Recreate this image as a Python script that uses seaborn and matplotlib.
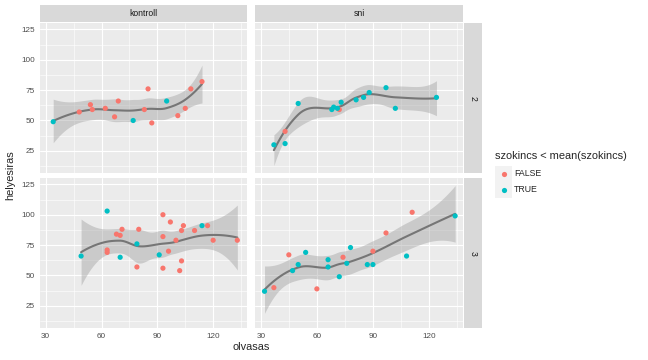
import numpy as np
import pandas as pd
import matplotlib
matplotlib.use("Agg")
import matplotlib.pyplot as plt
import seaborn as sns

sns.set_style("white")
plt.rcParams['font.family'] = ['Liberation Sans', 'DejaVu Sans']

# panel data: olvasas, helyesiras, szokincs < mean(szokincs)
k2_olvasas = [34, 48, 54, 55, 62, 67, 69, 77, 83, 85, 87, 95, 101, 105, 108, 114]
k2_helyesiras = [49, 57, 63, 59, 60, 53, 66, 50, 59, 76, 48, 66, 54, 60, 76, 82]
k2_alacsony = [1, 0, 0, 0, 0, 0, 0, 1, 0, 0, 0, 1, 0, 0, 0, 0]

s2_olvasas = [37, 43, 43, 50, 68, 69, 72, 71, 73, 81, 85, 88, 97, 102, 124]
s2_helyesiras = [30, 31, 41, 64, 59, 61, 59, 60, 65, 67, 69, 73, 77, 60, 69]
s2_alacsony = [1, 1, 0, 1, 1, 1, 0, 1, 1, 1, 1, 1, 1, 1, 1]

k3_olvasas = [49, 63, 63, 63, 68, 70, 70, 71, 79, 79, 80, 91, 93, 93, 93, 96, 97,
              100, 102, 103, 103, 104, 110, 114, 117, 120, 133]
k3_helyesiras = [66, 103, 71, 69, 84, 83, 65, 88, 76, 57, 88, 67, 100, 82, 56, 70, 94,
                 79, 54, 62, 87, 91, 87, 91, 91, 79, 79]
k3_alacsony = [1, 1, 0, 0, 0, 0, 1, 0, 1, 0, 0, 1, 0, 0, 0, 0, 0,
               0, 0, 0, 0, 0, 0, 1, 0, 0, 0]

s3_olvasas = [32, 37, 45, 47, 50, 54, 60, 66, 66, 72, 74, 76, 78, 87, 90, 90, 97, 108, 111, 134]
s3_helyesiras = [37, 40, 67, 54, 59, 69, 39, 63, 57, 49, 65, 60, 73, 59, 59, 70, 85, 66, 102, 99]
s3_alacsony = [1, 0, 0, 1, 1, 1, 0, 1, 1, 1, 0, 1, 1, 1, 1, 0, 0, 1, 0, 1]

panelek = {
    ("kontroll", "2"): (k2_olvasas, k2_helyesiras, k2_alacsony),
    ("sni", "2"): (s2_olvasas, s2_helyesiras, s2_alacsony),
    ("kontroll", "3"): (k3_olvasas, k3_helyesiras, k3_alacsony),
    ("sni", "3"): (s3_olvasas, s3_helyesiras, s3_alacsony),
}
szinek = {"FALSE": "#F8766D", "TRUE": "#00BFC4"}


def loess_fit(x, y, xs, span=0.75, cell=0.2):
    # loess (degree 2, tricube) with kd-tree vertices + cubic Hermite interpolation, as R does
    x = np.asarray(x, float)
    y = np.asarray(y, float)
    n = len(x)
    q = int(np.floor(n * span))
    fc = int(np.floor(n * span * cell))

    def local(x0):
        d = np.abs(x - x0)
        h = np.sort(d)[q - 1]
        w = np.clip(1 - (d / h) ** 3, 0, None) ** 3
        X = np.column_stack([np.ones(n), x - x0, (x - x0) ** 2])
        XtW = X.T * w
        B = np.linalg.solve(XtW @ X, XtW)
        return B[0], B[1]

    srt = np.sort(x)
    mu = 0.005 * max(srt[-1] - srt[0], 1e-10)
    verts = {srt[0] - mu, srt[-1] + mu}

    def split(l, u, a, b):
        if u - l + 1 <= fc:
            return
        m = (l + u) // 2
        xi = srt[m - 1]
        if xi == a or xi == b:
            return
        verts.add(xi)
        split(l, m, a, xi)
        split(m + 1, u, xi, b)

    split(1, n, srt[0] - mu, srt[-1] + mu)
    vv = np.array(sorted(verts))
    vals = [local(v) for v in vv]

    def rows(pts):
        out = []
        for t in pts:
            i = min(max(np.searchsorted(vv, t) - 1, 0), len(vv) - 2)
            h = vv[i + 1] - vv[i]
            s = (t - vv[i]) / h
            h00 = 2 * s ** 3 - 3 * s ** 2 + 1
            h10 = s ** 3 - 2 * s ** 2 + s
            h01 = -2 * s ** 3 + 3 * s ** 2
            h11 = s ** 3 - s ** 2
            out.append(h00 * vals[i][0] + h10 * h * vals[i][1]
                       + h01 * vals[i + 1][0] + h11 * h * vals[i + 1][1])
        return np.array(out)

    L = rows(x)
    IL = np.eye(n) - L
    M = IL.T @ IL
    d1 = np.trace(M)
    d2 = np.trace(M @ M)
    s = np.sqrt(np.sum((IL @ y) ** 2) / d1)
    df = d1 ** 2 / d2
    z = 1.959964
    t = z + (z ** 3 + z) / (4 * df) + (5 * z ** 5 + 16 * z ** 3 + 3 * z) / (96 * df ** 2)
    Ls = rows(xs)
    fit = Ls @ y
    se = s * np.sqrt(np.sum(Ls ** 2, axis=1))
    return fit, fit - t * se, fit + t * se


W, H = 648, 360
fig = plt.figure(figsize=(W / 100, H / 100), dpi=100)


def box(x0, y0, x1, y1):
    return [x0 / W, 1 - y1 / H, (x1 - x0) / W, (y1 - y0) / H]


col_px = {"kontroll": (40, 247), "sni": (255, 463)}
row_px = {"2": (23, 173), "3": (178, 328)}

for (csop, sor), (ox, hy, al) in panelek.items():
    x0, x1 = col_px[csop]
    y0, y1 = row_px[sor]
    ax = fig.add_axes(box(x0, y0, x1, y1))
    ax.set_facecolor("#EBEBEB")
    for sp in ax.spines.values():
        sp.set_visible(False)
    ax.set_xlim(26.9, 138.2)
    ax.set_ylim(6.8, 130.2)
    for v in [45, 75, 105, 135]:
        ax.axvline(v, color="white", lw=0.4, zorder=0.5)
    for v in [12.5, 37.5, 62.5, 87.5, 112.5]:
        ax.axhline(v, color="white", lw=0.4, zorder=0.5)
    for v in [30, 60, 90, 120]:
        ax.axvline(v, color="white", lw=0.8, zorder=0.6)
    for v in [25, 50, 75, 100, 125]:
        ax.axhline(v, color="white", lw=0.8, zorder=0.6)

    df = pd.DataFrame({"olvasas": ox, "helyesiras": hy,
                       "csoport": ["TRUE" if a else "FALSE" for a in al]})
    xs = np.linspace(min(ox), max(ox), 80)
    fit, lo, hi = loess_fit(ox, hy, xs)
    ax.fill_between(xs, lo, hi, color="#999999", alpha=0.4, lw=0, zorder=1)
    sns.lineplot(x=xs, y=fit, ax=ax, color="#767676", lw=1.5, zorder=2)
    sns.scatterplot(data=df, x="olvasas", y="helyesiras", hue="csoport",
                    palette=szinek, s=14, linewidth=0, ax=ax, legend=False, zorder=3)
    ax.set_xlabel("")
    ax.set_ylabel("")
    ax.set_xticks([30, 60, 90, 120])
    ax.set_yticks([25, 50, 75, 100, 125])
    ax.tick_params(length=2, width=0.6, color="#333333", labelsize=5.9,
                   labelcolor="#4D4D4D", pad=1.5)
    if csop != "kontroll":
        ax.tick_params(axis="y", left=False, labelleft=False)
    if sor != "3":
        ax.tick_params(axis="x", bottom=False, labelbottom=False)

    if sor == "2":
        st = fig.add_axes(box(x0, 5, x1, 22))
        st.set_facecolor("#D9D9D9")
        st.set_xticks([]); st.set_yticks([])
        for sp in st.spines.values():
            sp.set_visible(False)
        st.text(0.5, 0.5, csop, ha="center", va="center", fontsize=6.2, color="#1A1A1A")
    if csop == "sni":
        st = fig.add_axes(box(464, y0, 482, y1))
        st.set_facecolor("#D9D9D9")
        st.set_xticks([]); st.set_yticks([])
        for sp in st.spines.values():
            sp.set_visible(False)
        st.text(0.5, 0.5, sor, ha="center", va="center", rotation=-90,
                fontsize=6.2, color="#1A1A1A")

fig.text(251.5 / W, 1 - 347 / H, "olvasas", ha="center", va="center", fontsize=7.9)
fig.text(10 / W, 1 - 175.5 / H, "helyesiras", ha="center", va="center",
         rotation=90, fontsize=7.9)

# legend
fig.text(495 / W, 1 - 156 / H, "szokincs < mean(szokincs)", ha="left", va="center",
         fontsize=7.9)
lg = fig.add_axes(box(495, 165, 512, 198))
lg.set_xlim(0, 1)
lg.set_ylim(198, 165)
lg.axis("off")
for lab, yc in [("FALSE", 173.5), ("TRUE", 189.5)]:
    lg.add_patch(plt.Rectangle((0, yc - 8), 1, 16, color="#F2F2F2", lw=0))
    lg.scatter([0.5], [yc], s=14, color=szinek[lab], lw=0)
    fig.text(514 / W, 1 - yc / H, lab, ha="left", va="center", fontsize=6.3)

fig.savefig("out.png", dpi=100)
